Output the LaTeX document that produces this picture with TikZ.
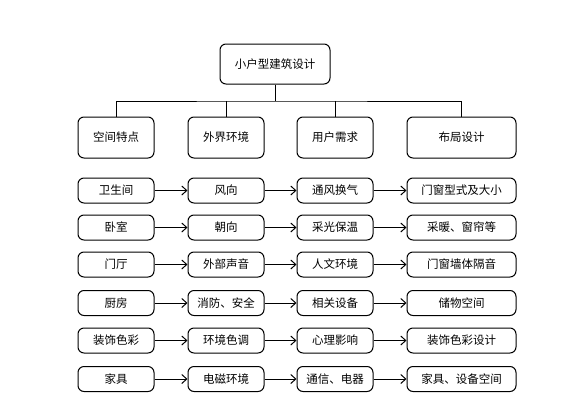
\documentclass[tikz,border=0pt]{standalone}
\usepackage{fontspec}
\newfontfamily\cjk{Noto Sans CJK SC}
\usetikzlibrary{arrows.meta}

\begin{document}
\begin{tikzpicture}[x=1pt, y=-1pt, line width=1pt, >={Straight Barb[length=5pt,width=9pt]},
    box/.style={draw, rounded corners=6pt, inner sep=0pt, minimum width=76pt, minimum height=25pt,
                font=\cjk\fontsize{11.5}{12}\selectfont},
    wbox/.style={box, minimum width=109pt},
    hbox/.style={minimum height=41pt}]
                \useasboundingbox (0,0) rectangle (571,405);

                % Tổng
                \node[box, minimum width=110pt, minimum height=40pt] (G) at (275,64) {小户型建筑设计};

                % --- LỚP THỨ HAI ---
                \node[box, hbox] (T1) at (116,137.5) {空间特点};
                \node[box, hbox] (T2) at (226,137.5) {外界环境};
                \node[box, hbox] (T3) at (335,137.5) {用户需求};
                \node[wbox, hbox] (T4) at (461.5,137.5) {布局设计};

                % Nhánh cây
                \coordinate (J) at (275,101);
                \draw (G.south) -- (J);
                \draw (T1.north) |- (J) -| (T4.north);
                \draw (T2.north) -- (T2.north |- J);
                \draw (T3.north) -- (T3.north |- J);

                % --- CỘT 1 ---
                \node[box] (A1) at (116,190.5) {卫生间};
                \node[box] (A2) at (116,227.5) {卧室};
                \node[box] (A3) at (116,264.5) {门厅};
                \node[box] (A4) at (116,303) {厨房};
                \node[box] (A5) at (116,340.5) {装饰色彩};
                \node[box] (A6) at (116,379) {家具};

                % --- CỘT 2 ---
                \node[box] (B1) at (226,190.5) {风向};
                \node[box] (B2) at (226,227.5) {朝向};
                \node[box] (B3) at (226,264.5) {外部声音};
                \node[box] (B4) at (226,303) {消防、安全};
                \node[box] (B5) at (226,340.5) {环境色调};
                \node[box] (B6) at (226,379) {电磁环境};

                % --- CỘT 3 ---
                \node[box] (C1) at (335,190.5) {通风换气};
                \node[box] (C2) at (335,227.5) {采光保温};
                \node[box] (C3) at (335,264.5) {人文环境};
                \node[box] (C4) at (335,303) {相关设备};
                \node[box] (C5) at (335,340.5) {心理影响};
                \node[box] (C6) at (335,379) {通信、电器};

                % --- CỘT 4 ---
                \node[wbox] (D1) at (461.5,190.5) {门窗型式及大小};
                \node[wbox] (D2) at (461.5,227.5) {采暖、窗帘等};
                \node[wbox] (D3) at (461.5,264.5) {门窗墙体隔音};
                \node[wbox] (D4) at (461.5,303) {储物空间};
                \node[wbox] (D5) at (461.5,340.5) {装饰色彩设计};
                \node[wbox] (D6) at (461.5,379) {家具、设备空间};

                % Mũi tên
                \draw[->] (A1) -- (B1);
                \draw[->] (B1) -- (C1);
                \draw[->] (C1) -- (D1);
                \draw[->] (A2) -- (B2);
                \draw[->] (B2) -- (C2);
                \draw[->] (C2) -- (D2);
                \draw[->] (A3) -- (B3);
                \draw[->] (B3) -- (C3);
                \draw[->] (C3) -- (D3);
                \draw[->] (A4) -- (B4);
                \draw[->] (B4) -- (C4);
                \draw[->] (C4) -- (D4);
                \draw[->] (A5) -- (B5);
                \draw[->] (B5) -- (C5);
                \draw[->] (C5) -- (D5);
                \draw[->] (A6) -- (B6);
                \draw[->] (B6) -- (C6);
                \draw[->] (C6) -- (D6);

            \end{tikzpicture}
\end{document}
